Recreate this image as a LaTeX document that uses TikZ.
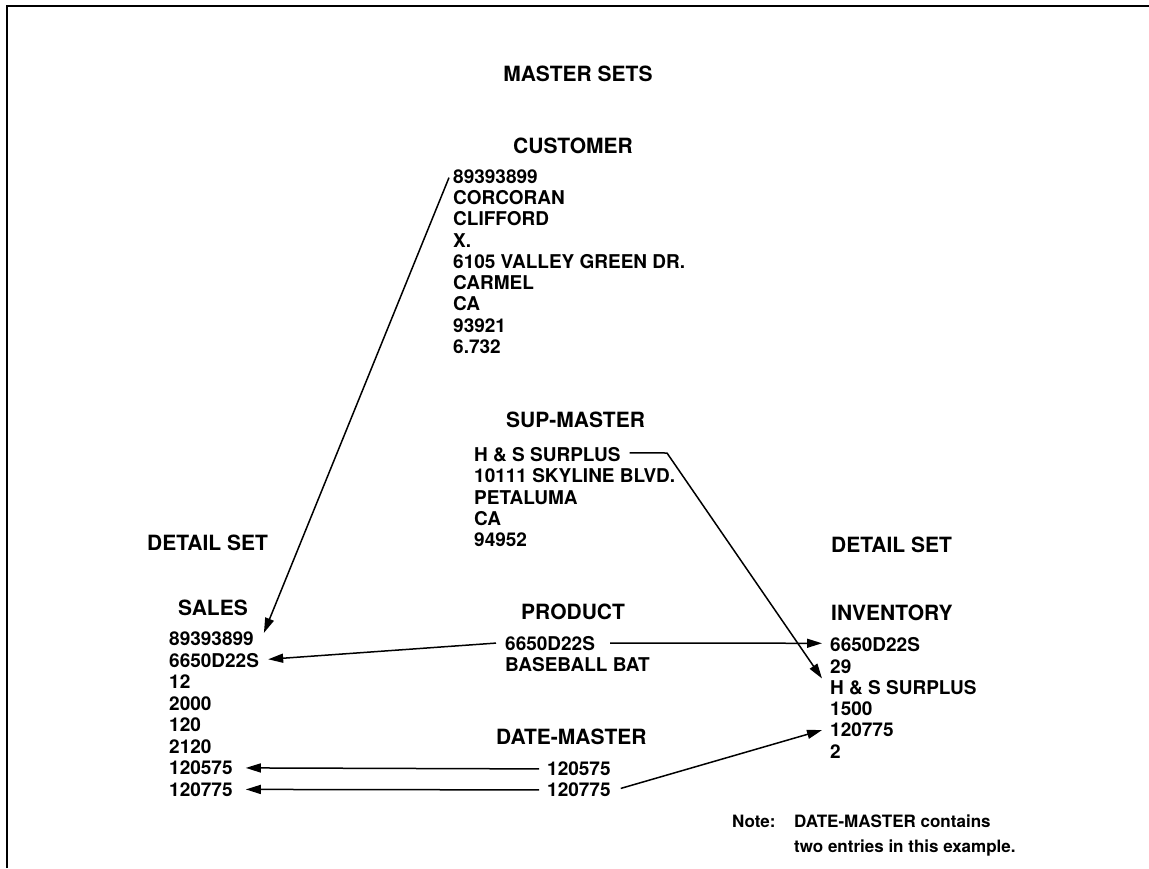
\documentclass[tikz,border=0pt]{standalone}
\usepackage{fontspec}
\setmainfont{TeX Gyre Heros}
\usetikzlibrary{arrows.meta}
\begin{document}
\begin{tikzpicture}[x=1pt,y=-1pt,
  head/.style={inner sep=0pt,anchor=base west,font=\fontsize{21}{24}\selectfont\bfseries},
  body/.style={inner sep=0pt,anchor=base west,font=\fontsize{19}{21}\selectfont\bfseries},
  notetxt/.style={inner sep=0pt,anchor=base west,font=\fontsize{17}{20}\selectfont\bfseries},
  link/.style={line width=1.5pt,-{Triangle[length=15pt,width=9pt]}},
  frameline/.style={line width=2.6pt}]
\useasboundingbox (0,0) rectangle (1149,868);
\draw[frameline] (7,868) -- (7,6) -- (1149,6);

% headings
\node[head,anchor=base] (ms) at (578,81.5) {MASTER SETS};
\node[head] (cust) at (513,153.5) {CUSTOMER};
\node[head] (sup) at (506,427.5) {SUP-MASTER};
\node[head] (dl) at (147,550.5) {DETAIL SET};
\node[head] (sales) at (178,615) {SALES};
\node[head] (prod) at (521,619) {PRODUCT};
\node[head] (date) at (496,744.5) {DATE-MASTER};
\node[head] (dr) at (831,552.5) {DETAIL SET};
\node[head] (inv) at (831,620) {INVENTORY};

% customer record
\foreach \t [count=\i] in {89393899,CORCORAN,CLIFFORD,X.,6105 VALLEY GREEN DR.,CARMEL,CA,93921,6.732}
  \node[body] (c\i) at (453,{183.4+21.25*(\i-1)}) {\t};

% sup-master record
\foreach \t [count=\i] in {H \& S SURPLUS,10111 SKYLINE BLVD.,PETALUMA,CA,94952}
  \node[body] (h\i) at (474,{461.7+21.25*(\i-1)}) {\t};

% sales record
\foreach \t [count=\i] in {89393899,6650D22S,12,2000,120,2120,120575,120775}
  \node[body] (s\i) at (169,{645.7+21.5*(\i-1)}) {\t};

% product record
\node[body] (p1) at (505,650) {6650D22S};
\node[body] (p2) at (505,671.5) {BASEBALL BAT};

% date-master entries
\node[body] (d1) at (547,775.7) {120575};
\node[body] (d2) at (547,796.7) {120775};

% inventory record
\foreach \t [count=\i] in {6650D22S,29,H \& S SURPLUS,1500,120775,2}
  \node[body] (i\i) at (830,{651.7+21.3*(\i-1)}) {\t};

% note
\node[notetxt] (note) at (732,827) {Note:};
\node[notetxt] (n1) at (794,827) {DATE-MASTER contains};
\node[notetxt] (n2) at (794,852) {two entries in this example.};

% connectors
\draw[link] ([xshift=-4pt,yshift=-1pt]c1.west) -- ([xshift=10pt,yshift=6pt]s1.east);
\draw[link] ([xshift=-9pt]p1.west) -- ([xshift=9pt,yshift=1pt]s2.east);
\draw[link] ([xshift=15pt]p1.east) -- ([xshift=-8pt,yshift=1.5pt]i1.west);
\coordinate (bend) at (667,453);
\draw[link] ([xshift=9pt,yshift=2pt]h1.east) -- (bend) -- ([xshift=-8pt,yshift=9pt]i3.west);
\draw[link] ([xshift=-8pt]d1.west) -- ([xshift=13pt]s7.east);
\draw[link] ([xshift=-8pt]d2.west) -- ([xshift=13pt]s8.east);
\draw[link] ([xshift=10pt,yshift=1.5pt]d2.east) -- ([xshift=-8pt,yshift=0pt]i5.west);
\end{tikzpicture}
\end{document}
